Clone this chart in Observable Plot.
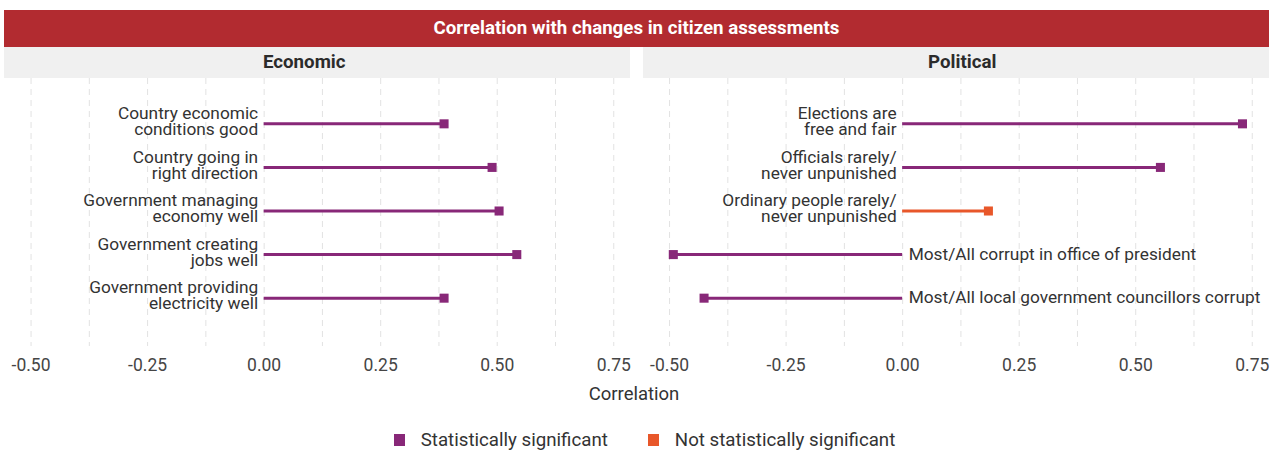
<!DOCTYPE html>
<html>
<head>
<meta charset="utf-8">
<script src="https://cdn.jsdelivr.net/npm/d3@7"></script>
<script src="https://cdn.jsdelivr.net/npm/@observablehq/plot@0.6"></script>
<style>
  html, body { margin: 0; padding: 0; background: #fff; }
  body { width: 1283px; height: 450px; position: relative; font-family: Roboto, "Noto Sans", sans-serif; overflow: hidden; }
  #title { position: absolute; left: 4px; top: 10px; width: 1265px; height: 37px; background: #B22B30; color: #fff;
           font-weight: bold; font-size: 18.7px; line-height: 37px; text-align: center; }
  .strip { position: absolute; top: 47px; height: 31px; background: #F0F0F0; color: #2b2b2b; font-weight: bold;
           font-size: 18.7px; line-height: 31px; text-align: center; box-sizing: border-box; }
  #chart { position: absolute; left: 0; top: 78px; }
  #xlabel { position: absolute; left: 0; width: 1268px; top: 383px; text-align: center; font-size: 18.5px; color: #333; }
  #legend { position: absolute; left: 3px; width: 1283px; top: 429px; display: flex; justify-content: center; gap: 40px;
            font-size: 18.7px; color: #333; }
  #legend .item { display: flex; align-items: center; gap: 16px; }
  #legend .sw { width: 11px; height: 12px; }
</style>
</head>
<body>
<div id="title">Correlation with changes in citizen assessments</div>
<div id="strips"></div>
<div id="chart"></div>
<div id="xlabel">Correlation</div>
<div id="legend"></div>
<script>
// ---- data ----
const panelNames = ["Economic", "Political"];

const econItems = [
  "Country economic\nconditions good",
  "Country going in\nright direction",
  "Government managing\neconomy well",
  "Government creating\njobs well",
  "Government providing\nelectricity well"
];
const econValues = [0.386, 0.489, 0.504, 0.542, 0.386];
const econSig = [true, true, true, true, true];

const polItems = [
  "Elections are\nfree and fair",
  "Officials rarely/\nnever unpunished",
  "Ordinary people rarely/\nnever unpunished",
  "Most/All corrupt in office of president",
  "Most/All local government councillors corrupt"
];
const polValues = [0.729, 0.553, 0.184, -0.492, -0.426];
const polSig = [true, true, false, true, true];

const xTicks = [-0.5, -0.25, 0, 0.25, 0.5, 0.75];
const gridTicks = [-0.5, -0.375, -0.25, -0.125, 0, 0.125, 0.25, 0.375, 0.5, 0.625, 0.75];

const sigLabels = ["Statistically significant", "Not statistically significant"];
const sigColors = ["#882878", "#E8572A"];

// ---- table ----
const rows = [];
econItems.forEach((item, i) => rows.push({panel: panelNames[0], rank: i, item, value: econValues[i], sig: econSig[i] ? sigLabels[0] : sigLabels[1]}));
polItems.forEach((item, i) => rows.push({panel: panelNames[1], rank: i, item, value: polValues[i], sig: polSig[i] ? sigLabels[0] : sigLabels[1]}));

const fmt = d3.format(".2f");

const chart = Plot.plot({
  width: 1283,
  height: 330,
  marginTop: 0,
  marginBottom: 62,
  marginLeft: 4,
  marginRight: 14,
  fx: {domain: panelNames, paddingInner: 0.0188, paddingOuter: 0, axis: null, round: false},
  x: {domain: [-0.557, 0.787], ticks: xTicks, tickFormat: d => fmt(d).replace("\u2212", "-"), tickSize: 0, tickPadding: 12, label: null},
  y: {type: "point", domain: [0, 1, 2, 3, 4], padding: 1.04, insetBottom: 3, round: false, axis: null},
  color: {domain: sigLabels, range: sigColors},
  style: {fontFamily: "Roboto, sans-serif", fontSize: "17.5px", color: "#454545", background: "transparent", overflow: "visible"},
  marks: [
    Plot.ruleX(gridTicks, {stroke: "#e2e2e2", strokeWidth: 1, strokeDasharray: "6,5"}),
    Plot.ruleY(rows, {fx: "panel", y: "rank", x1: 0, x2: "value", stroke: "sig", strokeWidth: 3}),
    Plot.dot(rows, {fx: "panel", y: "rank", x: "value", symbol: "square", fill: "sig", r: 5.1}),
    Plot.text(rows.filter(d => d.value >= 0), {fx: "panel", y: "rank", x: 0, text: "item", textAnchor: "end", dx: -6, dy: -2, fill: "#333", fontSize: 17.3, lineHeight: 0.93}),
    Plot.text(rows.filter(d => d.value < 0), {fx: "panel", y: "rank", x: 0, text: "item", textAnchor: "start", dx: 6, fill: "#333", fontSize: 17.3, lineHeight: 0.93})
  ]
});
document.getElementById("chart").appendChild(chart);

// facet strips, positioned from the fx scale
const fx = chart.scale("fx");
const stripsDiv = document.getElementById("strips");
const stripShift = {Economic: "0 26px 0 0", Political: "0 0 0 13px"};
panelNames.forEach(name => {
  const s = document.createElement("div");
  s.className = "strip";
  s.style.left = fx.apply(name) + "px";
  s.style.width = fx.bandwidth + "px";
  s.style.padding = stripShift[name];
  s.textContent = name;
  stripsDiv.appendChild(s);
});

// legend from the color scale
const color = chart.scale("color");
const legend = document.getElementById("legend");
color.domain.forEach(lbl => {
  const it = document.createElement("div");
  it.className = "item";
  const sw = document.createElement("div");
  sw.className = "sw";
  sw.style.background = color.apply(lbl);
  const tx = document.createElement("span");
  tx.textContent = lbl;
  it.appendChild(sw);
  it.appendChild(tx);
  legend.appendChild(it);
});
</script>
</body>
</html>
